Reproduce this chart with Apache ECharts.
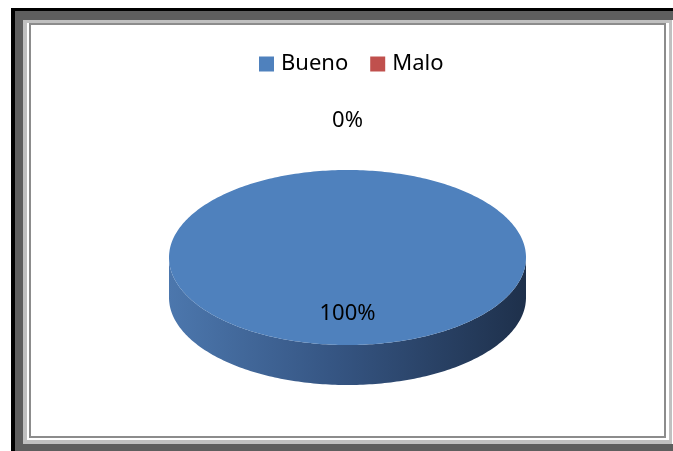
<!DOCTYPE html>
<html>
<head>
<meta charset="utf-8">
<script src="https://cdn.jsdelivr.net/npm/echarts@6/dist/echarts.min.js"></script>
<style>
  html, body { margin: 0; padding: 0; background: #fff; }
  #chart { width: 673px; height: 451px; }
</style>
</head>
<body>
<div id="chart"></div>
<script>
// Category names and their values (percent of responses)
const categories = ['Bueno', 'Malo'];
const values = [100, 0];
const colors = ['#4f81bd', '#c0504d'];

// Geometry of the tilted pie: top ellipse and wall depth
const PIE = { cx: 347.5, cy: 257.5, rx: 178.5, ry: 87.5, depth: 40 };
const FONT = '"Noto Sans", "DejaVu Sans", sans-serif';

const total = values.reduce((a, b) => a + b, 0);
const starts = values.map((v, i) => values.slice(0, i).reduce((a, b) => a + b, 0));

// Angle in screen space (y down): 12 o'clock = -PI/2, clockwise
function angleOf(v) { return -Math.PI / 2 + 2 * Math.PI * v / total; }
function pt(a, dy) {
  return [PIE.cx + PIE.rx * Math.cos(a), PIE.cy + PIE.ry * Math.sin(a) + (dy || 0)];
}
function arcPoints(a0, a1, dy) {
  const n = Math.max(2, Math.ceil(Math.abs(a1 - a0) / (Math.PI / 180)));
  const out = [];
  for (let k = 0; k <= n; k++) out.push(pt(a0 + (a1 - a0) * k / n, dy));
  return out;
}

// Portion of the slice's rim that faces the viewer (front half, 0..PI)
function frontRanges(a0, a1) {
  const res = [];
  for (let s = -2; s <= 2; s++) {
    const lo = Math.max(a0, s * 2 * Math.PI);
    const hi = Math.min(a1, s * 2 * Math.PI + Math.PI);
    if (hi > lo) res.push([lo, hi]);
  }
  return res;
}

function renderSlice(idx) {
  return function (params, api) {
    const v = api.value(0);
    const start = api.value(1);
    const a0 = angleOf(start);
    const a1 = angleOf(start + v);
    const children = [];
    const base = colors[idx];

    if (v > 0) {
      // side wall
      frontRanges(a0, a1).forEach(function (r) {
        const top = arcPoints(r[0], r[1], 0);
        const bottom = arcPoints(r[1], r[0], PIE.depth);
        children.push({
          type: 'polygon',
          z2: 1,
          shape: { points: top.concat(bottom) },
          style: {
            fill: new echarts.graphic.LinearGradient(0, 0, 1, 0, [
              { offset: 0, color: '#4c77ad' },
              { offset: 0.45, color: '#365684' },
              { offset: 1, color: '#1e304b' }
            ])
          }
        });
      });
      // top face
      const topPts = [[PIE.cx, PIE.cy]].concat(arcPoints(a0, a1, 0));
      children.push({
        type: 'polygon',
        z2: 5,
        shape: { points: topPts },
        style: { fill: base }
      });
    }

    // value label
    const mid = (a0 + a1) / 2;
    let lx, ly;
    if (v > 0) {
      lx = PIE.cx + 0.62 * PIE.rx * Math.cos(mid);
      ly = PIE.cy + 0.62 * PIE.ry * Math.sin(mid) + 2;
    } else {
      lx = PIE.cx + (PIE.rx + 51) * Math.cos(mid);
      ly = PIE.cy + (PIE.ry + 51) * Math.sin(mid) + 2;
    }
    children.push({
      type: 'text',
      z2: 10,
      style: {
        x: lx, y: ly,
        text: Math.round(v / total * 100) + '%',
        fill: '#000',
        font: '22px ' + FONT,
        align: 'center',
        verticalAlign: 'middle'
      }
    });
    return { type: 'group', children: children };
  };
}

const series = categories.map(function (name, i) {
  return {
    type: 'custom',
    name: name,
    coordinateSystem: 'none',
    silent: true,
    itemStyle: { color: colors[i] },
    data: [[values[i], starts[i]]],
    renderItem: renderSlice(i)
  };
});

const chart = echarts.init(document.getElementById('chart'), null, { renderer: 'canvas' });
chart.setOption({
  backgroundColor: '#ffffff',
  animation: false,
  legend: {
    data: categories,
    left: 259,
    top: 53,
    padding: 0,
    icon: 'rect',
    itemWidth: 15,
    itemHeight: 15,
    itemGap: 22,
    textStyle: { fontFamily: FONT, fontSize: 22, color: '#000', padding: [2, 0, 0, 2] }
  },
  graphic: [
    { type: 'rect', z: -10, shape: { x: 11, y: 8, width: 662, height: 443 }, style: { fill: '#000' } },
    { type: 'rect', z: -9, shape: { x: 15, y: 11, width: 658, height: 440 }, style: { fill: '#5e5e5e' } },
    { type: 'rect', z: -8, shape: { x: 23, y: 20, width: 649, height: 424 }, style: { fill: '#c0c0c0' } },
    { type: 'rect', z: -7, shape: { x: 27, y: 23, width: 642, height: 417 }, style: { fill: '#ffffff' } },
    { type: 'rect', z: -6, shape: { x: 30, y: 24, width: 635, height: 413 }, style: { fill: '#ffffff', stroke: '#8c8c8c', lineWidth: 2 } },
    { type: 'rect', z: -6, shape: { x: 672, y: 20, width: 1, height: 424 }, style: { fill: '#ffffff' } }
  ],
  series: series
});
</script>
</body>
</html>
